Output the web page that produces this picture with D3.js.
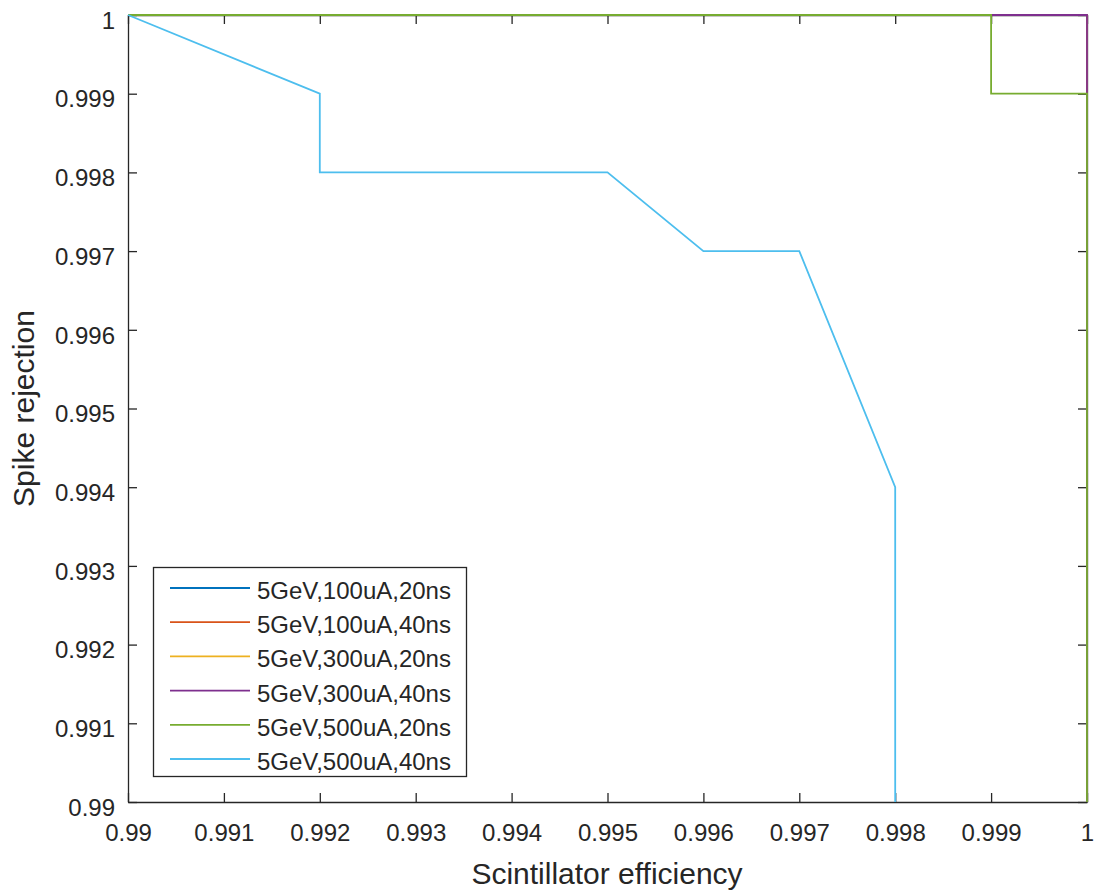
<!DOCTYPE html>
<html><head><meta charset="utf-8">
<script src="https://cdn.jsdelivr.net/npm/d3@7"></script>
<style>body{margin:0;background:#fff}svg{display:block}text{font-family:"Liberation Sans",Arial,sans-serif;fill:#262626}</style>
</head><body><svg id="c" width="1097" height="895"></svg>
<script>
const xTicks=[0.99,0.991,0.992,0.993,0.994,0.995,0.996,0.997,0.998,0.999,1];
const yTicks=[0.99,0.991,0.992,0.993,0.994,0.995,0.996,0.997,0.998,0.999,1];
const xTickLabels=["0.99","0.991","0.992","0.993","0.994","0.995","0.996","0.997","0.998","0.999","1"];
const yTickLabels=["0.99","0.991","0.992","0.993","0.994","0.995","0.996","0.997","0.998","0.999","1"];
const seriesNames=["5GeV,100uA,20ns","5GeV,100uA,40ns","5GeV,300uA,20ns","5GeV,300uA,40ns","5GeV,500uA,20ns","5GeV,500uA,40ns"];
const seriesColors=["#0072BD","#D95319","#EDB120","#7E2F8E","#77AC30","#4DBEEE"];
const s1x=[0.99,1,1], s1y=[1,1,0.99];
const s2x=[0.99,1,1], s2y=[1,1,0.99];
const s3x=[0.99,1,1], s3y=[1,1,0.99];
const s4x=[0.99,1,1], s4y=[1,1,0.99];
const s5x=[0.99,0.999,0.999,1,1], s5y=[1,1,0.999,0.999,0.99];
const s6x=[0.99,0.992,0.992,0.995,0.996,0.997,0.998,0.998], s6y=[1,0.999,0.998,0.998,0.997,0.997,0.994,0.99];
const seriesX=[s1x,s2x,s3x,s4x,s5x,s6x], seriesY=[s1y,s2y,s3y,s4y,s5y,s6y];

const svg=d3.select("#c");
const L=128,R=1087,T=15,B=802;
const x=d3.scaleLinear().domain([0.99,1]).range([L,R]);
const y=d3.scaleLinear().domain([0.99,1]).range([B,T]);
const axc="#262626";
const FF="'Liberation Sans',Arial,sans-serif";
// axes
const gx=svg.append("g").attr("transform",`translate(0,${B})`)
 .call(d3.axisBottom(x).tickValues(xTicks).tickFormat((d,i)=>xTickLabels[i]).tickSizeInner(-9).tickSizeOuter(0).tickPadding(22));
const gxt=svg.append("g").attr("transform",`translate(0,${T})`)
 .call(d3.axisTop(x).tickValues(xTicks).tickFormat("").tickSizeInner(-9).tickSizeOuter(0));
const gy=svg.append("g").attr("transform",`translate(${L},0)`)
 .call(d3.axisLeft(y).tickValues(yTicks).tickFormat((d,i)=>yTickLabels[i]).tickSizeInner(-9).tickSizeOuter(0).tickPadding(13));
const gyr=svg.append("g").attr("transform",`translate(${R},0)`)
 .call(d3.axisRight(y).tickValues(yTicks).tickFormat("").tickSizeInner(-9).tickSizeOuter(0));
[gx,gxt,gy,gyr].forEach(g=>{g.selectAll("path,line").attr("stroke",axc).attr("stroke-width",1.3);
 g.selectAll("text").attr("font-size",24).attr("fill",axc).style("font-family",FF);});
gx.selectAll("text").attr("dy","0.71em").attr("y",22);
gy.selectAll("text").attr("dy","0.55em");
// clip
svg.append("clipPath").attr("id","cp").append("rect").attr("x",L-1).attr("y",T-1).attr("width",R-L+2).attr("height",B-T+2);
const line=d3.line().x(d=>x(d[0])).y(d=>y(d[1]));
const gl=svg.append("g").attr("clip-path","url(#cp)");
seriesX.forEach((xs,i)=>{
 gl.append("path").datum(xs.map((v,j)=>[v,seriesY[i][j]])).attr("d",line)
  .attr("fill","none").attr("stroke",seriesColors[i]).attr("stroke-width",1.8);
});
// labels
svg.append("text").attr("x",607).attr("y",884).attr("text-anchor","middle").attr("font-size",30).text("Scintillator efficiency");
svg.append("text").attr("transform",`translate(34,${(T+B)/2}) rotate(-90)`).attr("text-anchor","middle").attr("font-size",30).text("Spike rejection");
// legend
const lg=svg.append("g");
lg.append("rect").attr("x",153.5).attr("y",567.5).attr("width",313).attr("height",209).attr("fill","#fff").attr("stroke",axc).attr("stroke-width",1.3);
seriesNames.forEach((n,i)=>{
 const yy=588+i*34.2;
 lg.append("line").attr("x1",170).attr("x2",250).attr("y1",yy).attr("y2",yy).attr("stroke",seriesColors[i]).attr("stroke-width",1.8);
 lg.append("text").attr("x",257).attr("y",yy+2.5).attr("dy","0.35em").attr("font-size",24).text(n);
});
</script></body></html>
